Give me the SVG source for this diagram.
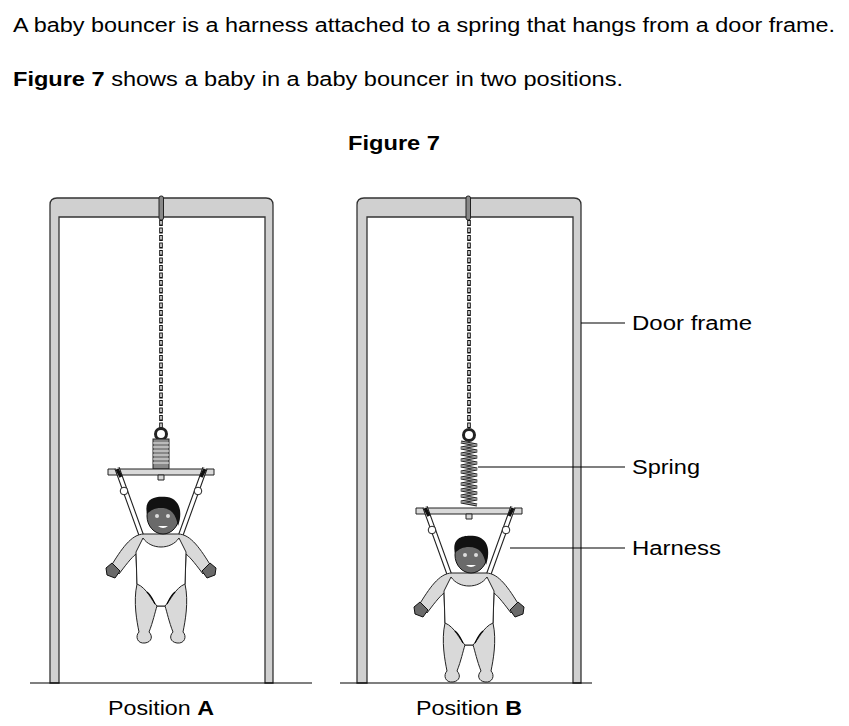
<svg xmlns="http://www.w3.org/2000/svg" width="849" height="726" viewBox="0 0 849 726">
<style>
text{font-family:"Liberation Sans",Arial,sans-serif;font-size:20px;fill:#000}
.fr{fill:#d0d0d0;stroke:#333;stroke-width:1.3}
.ln{stroke:#000;stroke-width:1.2;fill:none}
.g{fill:#d9d9d9;stroke:#222;stroke-width:1}
.w{fill:#fff;stroke:#222;stroke-width:1}
.sk{fill:#6a6a6a;stroke:#111;stroke-width:1}
.chain{stroke:#111;stroke-width:3.6;stroke-dasharray:6 1.5;fill:none}
.chainw{stroke:#fff;stroke-width:1.4;stroke-dasharray:3.5 4;stroke-dashoffset:-1;fill:none}
</style>
<defs>
<g id="baby">
<path class="g" d="M-53,-3H53V3H-53Z"/>
<path class="g" d="M-3,3h6v5h-6z"/>
<path d="M-44,-4 L-18,68 M44,-4 L18,68" stroke="#222" stroke-width="5.5" fill="none"/>
<path d="M-44,-4 L-18,68 M44,-4 L18,68" stroke="#fff" stroke-width="3.3" fill="none"/>
<path d="M-44,-3 l4,8 M44,-3 l-4,8" stroke="#111" stroke-width="3.5"/>
<circle class="w" cx="-37" cy="19" r="3.8"/><circle class="w" cx="37" cy="19" r="3.8"/>
<path class="g" d="M-17,62 C-30,62 -40,78 -50,94 L-42,102 C-36,94 -30,86 -25,82 L-24,112 C-28,130 -24,150 -22,160 C-26,164 -24,172 -16,171 C-9,170 -8,164 -12,160 C-8,150 -6,140 -4,134 L4,134 C6,140 8,150 12,160 C8,164 9,170 16,171 C24,172 26,164 22,160 C24,150 28,130 24,112 L25,82 C30,86 36,94 42,102 L50,94 C40,78 30,62 17,62 Z"/>
<path class="sk" d="M-49,91 l-6,5 l1,7 l8,3 l5,-7 z M49,91 l6,5 l-1,7 l-8,3 l-5,-7 z"/>
<path class="w" d="M-18,66 C-10,78 10,78 18,66 L25,80 L24,112 C14,116 10,128 4,134 L-4,134 C-10,128 -14,116 -24,112 L-25,80 Z"/>
<path class="ln" d="M-14,120 c4,3 6,8 8,12 M14,120 c-4,3 -6,8 -8,12" stroke-width="0.8"/>
<ellipse class="sk" cx="2" cy="44" rx="16" ry="18"/>
<path d="M-14,42 C-18,24 -2,24 6,25 C19,27 22,40 17,54 C15,42 10,36 0,36 C-6,36 -10,38 -14,42 Z" fill="#111"/>
<circle cx="-4" cy="44" r="2" fill="#ddd"/><circle cx="7" cy="44" r="2" fill="#ddd"/>
<path d="M-3,54 q5,4 10,0 z" fill="#fff"/>
</g>
</defs>
<text x="13" y="32" textLength="822" lengthAdjust="spacingAndGlyphs">A baby bouncer is a harness attached to a spring that hangs from a door frame.</text>
<text x="13" y="86" textLength="610" lengthAdjust="spacingAndGlyphs"><tspan font-weight="bold">Figure 7</tspan> shows a baby in a baby bouncer in two positions.</text>
<text x="394" y="150" font-weight="bold" text-anchor="middle" textLength="92" lengthAdjust="spacingAndGlyphs">Figure 7</text>
<g id="frameA">
<path class="fr" d="M50,683V205q0,-7 7,-7H266q7,0 7,7V683H265V217H59V683Z"/>
</g>
<g id="frameB">
<path class="fr" d="M357,683V205q0,-7 7,-7H574q7,0 7,7V683H573V217H367V683Z"/>
</g>
<path class="ln" d="M30,683H312M340,683H592"/>
<g id="bouncerA">
<rect x="159" y="196" width="4.5" height="24" rx="2" fill="#888" stroke="#222"/>
<path class="chain" d="M161,220V428"/><path class="chainw" d="M161,220V428"/>
<circle cx="161" cy="434" r="5.5" fill="#fff" stroke="#222" stroke-width="3"/>
<rect x="153" y="439" width="16" height="30" fill="#888" stroke="#222"/>
<path d="M153,443h16M153,447h16M153,451h16M153,455h16M153,459h16M153,463h16" stroke="#eee" stroke-width="1"/>
<use href="#baby" transform="translate(161,472)"/>
</g>
<g id="bouncerB">
<rect x="466" y="196" width="4.5" height="24" rx="2" fill="#888" stroke="#222"/>
<path class="chain" d="M469,220V428"/><path class="chainw" d="M469,220V428"/>
<circle cx="469" cy="435" r="5.5" fill="#fff" stroke="#222" stroke-width="3"/>
<path d="M461,442 l16,3 l-16,3 l16,3 l-16,3 l16,3 l-16,3 l16,3 l-16,3 l16,3 l-16,3 l16,3 l-16,3 l16,3 l-16,3 l16,3 l-16,3 l16,3 l-16,3 l16,3 l-16,3 l16,3" stroke="#222" stroke-width="3" fill="none"/>
<path d="M461,442 l16,3 l-16,3 l16,3 l-16,3 l16,3 l-16,3 l16,3 l-16,3 l16,3 l-16,3 l16,3 l-16,3 l16,3 l-16,3 l16,3 l-16,3 l16,3 l-16,3 l16,3 l-16,3 l16,3" stroke="#aaa" stroke-width="1.2" fill="none"/>
<use href="#baby" transform="translate(469,511)"/>
</g>
<g id="labels">
<path class="ln" d="M581,323H625M478,467H625M510,548H625"/>
<text x="632" y="330" textLength="120" lengthAdjust="spacingAndGlyphs">Door frame</text>
<text x="632" y="474" textLength="68" lengthAdjust="spacingAndGlyphs">Spring</text>
<text x="632" y="555" textLength="89" lengthAdjust="spacingAndGlyphs">Harness</text>
<text x="161" y="715" text-anchor="middle" textLength="106" lengthAdjust="spacingAndGlyphs">Position <tspan font-weight="bold">A</tspan></text>
<text x="469" y="715" text-anchor="middle" textLength="106" lengthAdjust="spacingAndGlyphs">Position <tspan font-weight="bold">B</tspan></text>
</g>
</svg>
